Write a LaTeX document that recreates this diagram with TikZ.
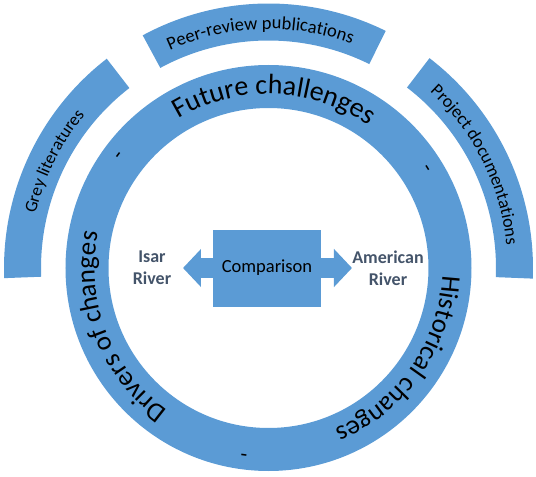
\documentclass[tikz,border=0pt]{standalone}
\usepackage{fontspec}
\setmainfont{Carlito}
\usetikzlibrary{decorations.text,arrows.meta}
\definecolor{ringblue}{HTML}{5B9BD5}
\definecolor{slate}{HTML}{44546A}
% #1 radius, #2 centre angle, #3 font size, #4 text (clockwise, tops outward)
\newcommand\ArcLabel[4]{%
  \path[decorate, decoration={text along path, text align=center,
    text={|\fontsize{#3}{#3}\selectfont|#4}}]
    ({#2+80}:#1) arc[start angle={#2+80}, end angle={#2-80}, radius=#1];}
% #1 start angle, #2 end angle
\newcommand\OuterBand[2]{%
  \fill[ringblue] (#1:264.5pt) arc[start angle=#1, end angle=#2, radius=264.5pt]
    -- (#2:227.5pt) arc[start angle=#2, end angle=#1, radius=227.5pt] -- cycle;}
\tikzset{
  dashmark/.style={font=\fontsize{22}{22}\selectfont, inner sep=0pt},
  rivertext/.style={align=center, text=slate, inner sep=0pt,
    font=\bfseries\fontsize{18}{22}\selectfont},
  cmpbox/.style={fill=ringblue, minimum width=108pt, minimum height=77pt,
    inner sep=0pt, font=\fontsize{18.5}{22}\selectfont},
  bigarrow/.style={ringblue, line width=20pt, -{Triangle[width=37pt,length=18pt]}}
}
\begin{document}
\begin{tikzpicture}[x=1pt,y=1pt]
\useasboundingbox (-268.5,-209) rectangle (267.5,268);
% main ring
\fill[ringblue, even odd rule] (0,0) circle[radius=203pt] (0,0) circle[radius=160pt];
% outer bands
\OuterBand{127.7}{182.2}
\OuterBand{63.7}{118.4}
\OuterBand{-2.3}{52.5}
% outer band labels
\ArcLabel{239pt}{92}{18.5}{Peer-review publications}
\ArcLabel{239pt}{153.5}{17.5}{Grey literatures}
\ArcLabel{239pt}{26.5}{18}{Project documentations}
% ring labels
\ArcLabel{174pt}{88}{28}{Future challenges}
\ArcLabel{174pt}{-35}{27}{Historical changes}
\ArcLabel{174pt}{201.5}{27}{Drivers of changes}
% separators
\node[dashmark, rotate=53.2] (d1) at (143.2:185pt) {-};
\node[dashmark, rotate=-57.8] (d2) at (32.2:185pt) {-};
\node[dashmark, rotate=172.5] (d3) at (262.5:186pt) {-};
% centre
\node[cmpbox] (cmp) at (-1.5,0) {Comparison};
\coordinate (ltip) at (-85.5,0);
\coordinate (rtip) at (83.5,0);
\draw[bigarrow] (cmp.west) -- (ltip);
\draw[bigarrow] (cmp.east) -- (rtip);
\node[rivertext] (isar) at (-116.5,0) {Isar\\River};
\node[rivertext] (amer) at (119.5,0) {American\\River};
\end{tikzpicture}
\end{document}
